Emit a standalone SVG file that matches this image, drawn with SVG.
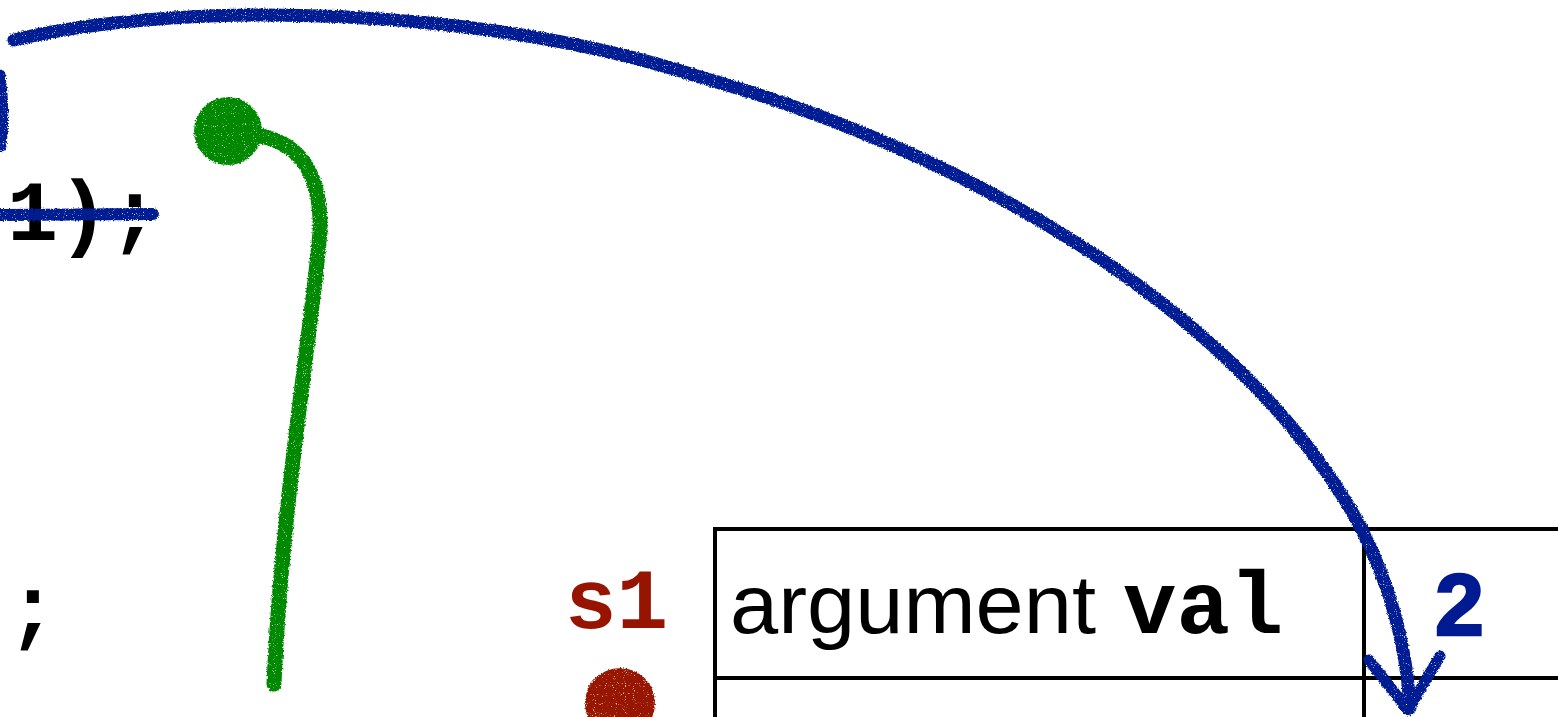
<svg xmlns="http://www.w3.org/2000/svg" width="1558" height="717" viewBox="0 0 1558 717">
  <style>
    .code { font-family: "Liberation Mono", "Courier New", monospace; font-weight: bold; }
    .sans { font-family: "Liberation Sans", Arial, sans-serif; }
    .cell { fill: none; stroke: #000; stroke-width: 4; }
    .blue { fill: none; stroke: #001A92; stroke-linecap: round; stroke-linejoin: round; }
    .green { fill: none; stroke: #008800; stroke-linecap: round; }
  </style>
  <defs>
    <filter id="rough" filterUnits="userSpaceOnUse" x="0" y="0" width="1558" height="717">
      <feTurbulence type="fractalNoise" baseFrequency="0.6" numOctaves="2" seed="2" result="n"/>
      <feDisplacementMap in="SourceGraphic" in2="n" scale="3.5" xChannelSelector="R" yChannelSelector="G" result="d"/>
      <feTurbulence type="fractalNoise" baseFrequency="0.9" numOctaves="1" seed="7" result="s"/>
      <feColorMatrix in="s" type="matrix" values="0 0 0 0 0  0 0 0 0 0  0 0 0 0 0  -6 0 0 0 4.8" result="m"/>
      <feComposite in="d" in2="m" operator="in"/>
    </filter>
  </defs>
  <rect width="1558" height="717" fill="#fff"/>

  <g id="code">
    <text class="code" x="7" y="240" font-size="85" fill="#000">1);</text>
    <text class="code" x="7" y="636" font-size="85" fill="#000">;</text>
  </g>

  <g id="table">
    <line class="cell" x1="715" y1="529" x2="1560" y2="529"/>
    <line class="cell" x1="715" y1="678" x2="1560" y2="678"/>
    <line class="cell" x1="715" y1="527" x2="715" y2="720"/>
    <line class="cell" x1="1364" y1="529" x2="1364" y2="720"/>
    <text x="730" y="633" font-size="84" class="sans" fill="#000" textLength="366" lengthAdjust="spacingAndGlyphs">argument</text>
    <text class="code" x="1123" y="633" font-size="89" fill="#000">val</text>
  </g>

  <g id="value">
    <text class="sans" x="1435" y="635" font-size="88" font-weight="bold" fill="#001A92" stroke="#001A92" stroke-width="2.5">2</text>
  </g>

  <g id="s1">
    <text class="code" x="565" y="628" font-size="86" fill="#961400">s1</text>
    <circle cx="620" cy="703" r="35" fill="#961400" filter="url(#rough)"/>
  </g>

  <g id="connectors">
    <path class="blue" stroke-width="11" filter="url(#rough)" d="M0,75 Q5,110 1,146"/>
    <path class="blue" stroke-width="12" filter="url(#rough)" d="M0,215 L153,214"/>
    <path class="blue" stroke-width="13" filter="url(#rough)" d="M14,40 C180,0 480,5 700,77 C960,150 1220,300 1345,500 C1375,548 1405,620 1410,708"/>
    <path class="blue" stroke-width="11" filter="url(#rough)" d="M1369,660 L1408,710 L1440,656"/>
    <g filter="url(#rough)">
      <circle cx="228" cy="131" r="34" fill="#008800"/>
      <path class="green" stroke-width="15" d="M255,135 C290,140 322,162 320,232 C312,330 282,500 274,684"/>
    </g>
  </g>
</svg>
